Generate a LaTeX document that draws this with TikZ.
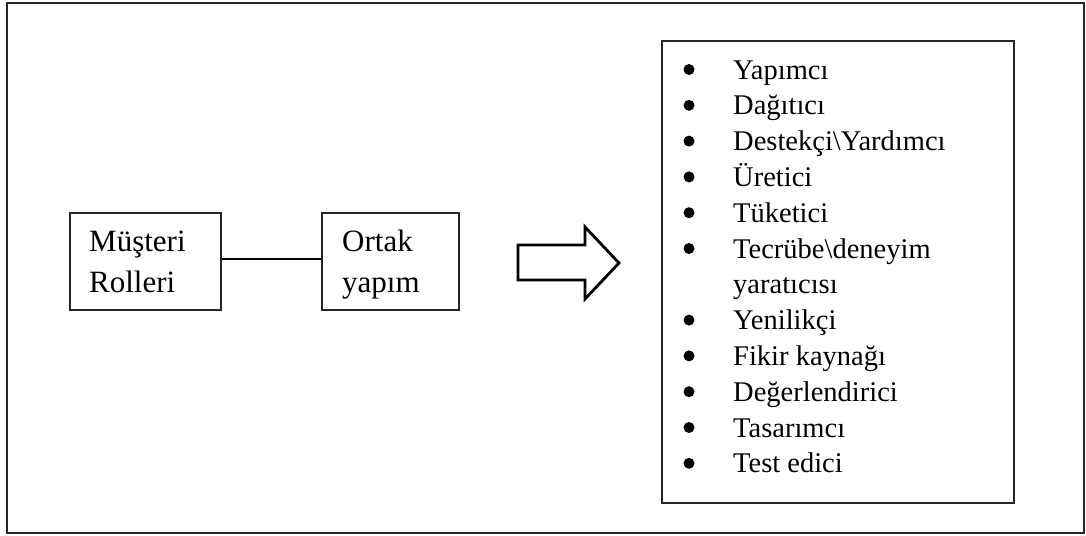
\documentclass[tikz,border=0pt]{standalone}
\usepackage{fontspec}
\setmainfont{Liberation Serif}
\begin{document}
\begin{tikzpicture}[x=1pt,y=-1pt,
  frame/.style={draw=black!85, line width=2.2pt},
  boxr/.style={draw=black!85, line width=1.7pt, anchor=north west, inner sep=0pt},
  txt/.style={anchor=base west, inner sep=0pt, font=\fontsize{28.5}{34}\selectfont},
  btxt/.style={anchor=base west, inner sep=0pt, font=\fontsize{31}{36}\selectfont},
  dot/.style={circle, fill=black, inner sep=0pt, minimum size=11pt},
  conn/.style={draw=black, line width=2pt},
  blockarrow/.style={draw=black, line width=2.8pt, line join=miter, fill=white}]
\useasboundingbox (0,0) rectangle (1086,535);
% outer frame
\draw[frame] (7,3) rectangle (1084,533);
% left boxes
\node[boxr, minimum width=151pt, minimum height=97pt] (m) at (69,212) {};
\node[boxr, minimum width=137pt, minimum height=97pt] (o) at (321,212) {};
\node[btxt] (m1) at (89,251) {Müşteri};
\node[btxt] (m2) at (89,292) {Rolleri};
\node[btxt] (o1) at (342,251) {Ortak};
\node[btxt] (o2) at (342,292) {yapım};
\draw[conn] ([yshift=2.5pt]m.east) -- ([yshift=2.5pt]o.west);
% block arrow
\draw[blockarrow] (518,245) -- (585,245) -- (585,227) -- (619,263) -- (585,299) -- (585,280) -- (518,280) -- cycle;
% right box
\node[boxr, minimum width=352pt, minimum height=462pt] (r) at (661,40) {};
\foreach \i/\t/\b in {0/Yapımcı/1, 1/Dağıtıcı/1, 2/Destekçi\textbackslash Yardımcı/1, 3/Üretici/1, 4/Tüketici/1, 5/Tecrübe\textbackslash deneyim/1, 6/yaratıcısı/0, 7/Yenilikçi/1, 8/Fikir kaynağı/1, 9/Değerlendirici/1, 10/Tasarımcı/1, 11/Test edici/1}{
  \pgfmathsetmacro{\yb}{79+35.8*\i}
  \node[txt] (l\i) at (733,\yb) {\t};
  \ifnum\b=1
    \node[dot] (d\i) at (689,\yb-9.5) {};
  \fi
}
\end{tikzpicture}
\end{document}
